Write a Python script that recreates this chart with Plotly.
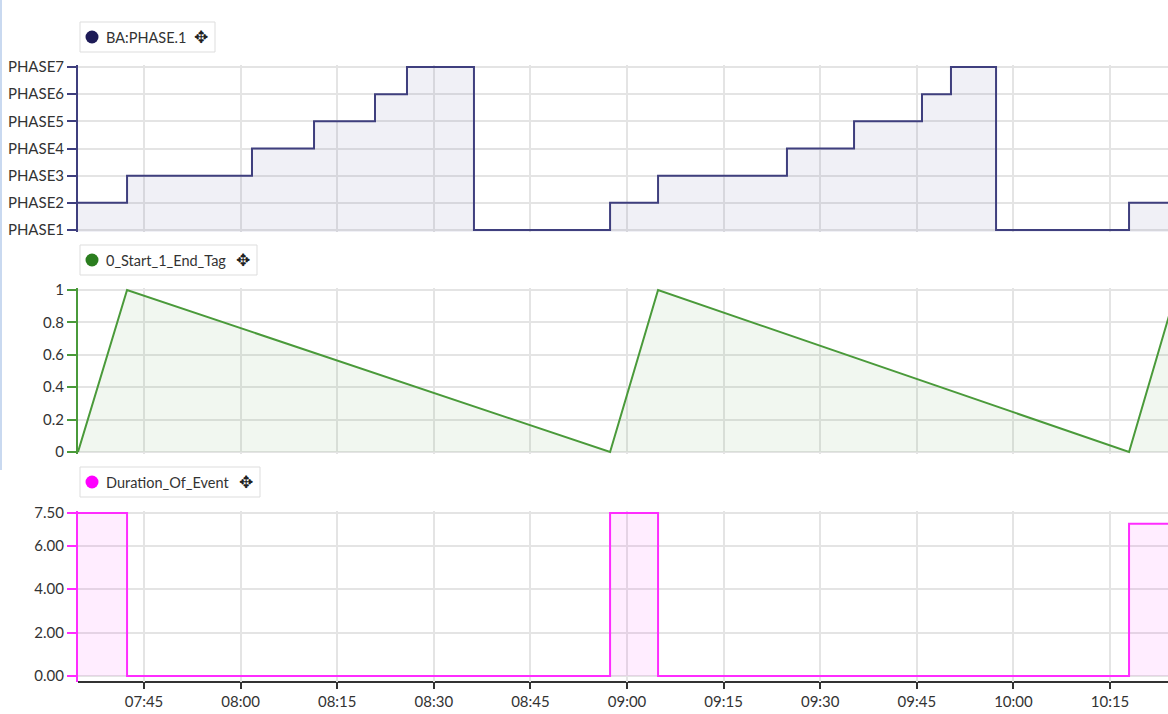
import plotly.graph_objects as go

DAY = "2024-01-01 "

# --- Data -------------------------------------------------------------
phase_times = ["07:34:45", "07:42:22", "08:01:46", "08:11:24", "08:20:52", "08:25:50",
               "08:36:14", "08:57:22", "09:04:49", "09:24:50", "09:35:15", "09:45:48",
               "09:50:18", "09:57:18", "10:17:57", "10:24:00"]
phase_values = [2, 3, 4, 5, 6, 7, 1, 2, 3, 4, 5, 6, 7, 1, 2, 2]
phase_labels = ["PHASE1", "PHASE2", "PHASE3", "PHASE4", "PHASE5", "PHASE6", "PHASE7"]

tag_times = ["07:34:45", "07:42:22", "08:57:22", "09:04:49", "10:17:57", "10:25:20"]
tag_values = [0, 1, 0, 1, 0, 1]
tag_ticks = [0, 0.2, 0.4, 0.6, 0.8, 1]
tag_ticktext = ["0", "0.2", "0.4", "0.6", "0.8", "1"]

dur_times = ["07:34:45", "07:42:22", "08:57:22", "09:04:49", "10:17:57", "10:24:00"]
dur_values = [7.5, 0, 7.5, 0, 7.0, 7.0]
dur_ticks = [0, 2, 4, 6, 7.5]
dur_ticktext = ["0.00", "2.00", "4.00", "6.00", "7.50"]

x_ticks = ["07:45", "08:00", "08:15", "08:30", "08:45", "09:00", "09:15", "09:30",
           "09:45", "10:00", "10:15"]
x_start, x_end = "07:34:45", "10:24:00"

series_names = ["BA:PHASE.1", "0_Start_1_End_Tag", "Duration_Of_Event"]
# ---------------------------------------------------------------------

W, H = 1168, 714
L = 78
def px_y(p):
    return 1 - p / H
def px_x(p):
    return (p - L) / (W - L)

navy_line, navy_dot, navy_fill = "#3f3f7e", "#1d1b57", "rgba(70,70,140,0.08)"
green_line, green_dot, green_fill = "#4a9a3a", "#2b7d1f", "rgba(80,150,60,0.08)"
mag_line, mag_dot, mag_fill = "#ff2cff", "#ff00ff", "rgba(255,0,255,0.07)"

fig = go.Figure()
fig.add_trace(go.Scatter(x=[DAY + t for t in phase_times], y=phase_values, mode="lines",
                         line=dict(color=navy_line, width=2, shape="hv"),
                         fill="tozeroy", fillcolor=navy_fill, xaxis="x", yaxis="y",
                         name=series_names[0]))
fig.add_trace(go.Scatter(x=[DAY + t for t in tag_times], y=tag_values, mode="lines",
                         line=dict(color=green_line, width=2),
                         fill="tozeroy", fillcolor=green_fill, xaxis="x", yaxis="y2",
                         name=series_names[1]))
fig.add_trace(go.Scatter(x=[DAY + t for t in dur_times], y=dur_values, mode="lines",
                         line=dict(color=mag_line, width=2, shape="hv"),
                         fill="tozeroy", fillcolor=mag_fill, xaxis="x", yaxis="y3",
                         name=series_names[2]))

tickfont = dict(family="Lato, sans-serif", size=15, color="#333333")
grid = "#e4e4e4"

def yax(top_px, bot_px, lo, hi, pad_top, pad_bot, tickvals, ticktext, color):
    # lo value sits at bot_px, hi value at top_px; domain padded by a few px
    scale = (hi - lo) / (bot_px - top_px)
    return dict(domain=[px_y(bot_px + pad_bot), px_y(top_px - pad_top)],
                range=[lo - pad_bot * scale, hi + pad_top * scale],
                tickvals=tickvals, ticktext=ticktext, showgrid=True, gridcolor=grid,
                gridwidth=1.5, zeroline=False, showline=True, linecolor=color, linewidth=2,
                ticks="outside", ticklen=9, tickcolor=color, tickwidth=2,
                tickfont=tickfont, anchor="x", fixedrange=True, automargin=False)

fig.update_layout(
    width=W, height=H, autosize=False,
    margin=dict(l=L, r=0, t=0, b=0, pad=0, autoexpand=False),
    paper_bgcolor="white", plot_bgcolor="white", showlegend=False,
    font=dict(family="Lato, sans-serif"),
    xaxis=dict(type="date", range=[DAY + x_start, DAY + x_end],
               tickvals=[DAY + t for t in x_ticks], ticktext=x_ticks,
               showgrid=True, gridcolor=grid, gridwidth=1.5, zeroline=False,
               showline=True, linecolor="#333333", linewidth=2, ticks="outside",
               ticklen=6, tickcolor="#333333", tickwidth=1.5, tickfont=tickfont,
               anchor="free", position=px_y(682), domain=[0, 1], automargin=False),
    yaxis=yax(67, 230, 1, 7, 2, 2, list(range(1, 8)), phase_labels, navy_line),
    yaxis2=yax(290, 452, 0, 1, 2, 2, tag_ticks, tag_ticktext, green_line),
    yaxis3=yax(513, 676, 0, 7.5, 2, 6, dur_ticks, dur_ticktext, mag_line),
)

# legend-like boxes: (name, colour, box top px, box right px)
boxes = [(series_names[0], navy_dot, 22, 215), (series_names[1], green_dot, 245, 257),
         (series_names[2], mag_dot, 467, 260)]
for name, col, top, right in boxes:
    cy = top + 15
    fig.add_shape(type="rect", xref="paper", yref="paper", x0=px_x(80), x1=px_x(right),
                  y0=px_y(top + 30), y1=px_y(top), line=dict(color="#dddddd", width=1),
                  fillcolor="white")
    fig.add_shape(type="circle", xref="paper", yref="paper", x0=px_x(85.5), x1=px_x(98.5),
                  y0=px_y(cy + 6.5), y1=px_y(cy - 6.5), line=dict(width=0), fillcolor=col)
    fig.add_annotation(xref="paper", yref="paper", x=px_x(104), y=px_y(cy),
                       xanchor="left", yanchor="middle", showarrow=False, text=name,
                       font=dict(family="Lato, sans-serif", size=14.5, color="#333333"))
    fig.add_annotation(xref="paper", yref="paper", x=px_x(right - 14), y=px_y(cy),
                       xanchor="center", yanchor="middle", showarrow=False, text="✥",
                       font=dict(family="DejaVu Sans, sans-serif", size=17, color="#222222"))

# faint window frame at left
fig.add_shape(type="line", xref="paper", yref="paper", x0=px_x(1), x1=px_x(1),
              y0=px_y(0), y1=px_y(470), line=dict(color="#c9d9f0", width=2))

fig.write_html("out.html", config={"displayModeBar": False},
               post_script="document.body.style.margin='0';document.body.style.overflow='hidden';")
